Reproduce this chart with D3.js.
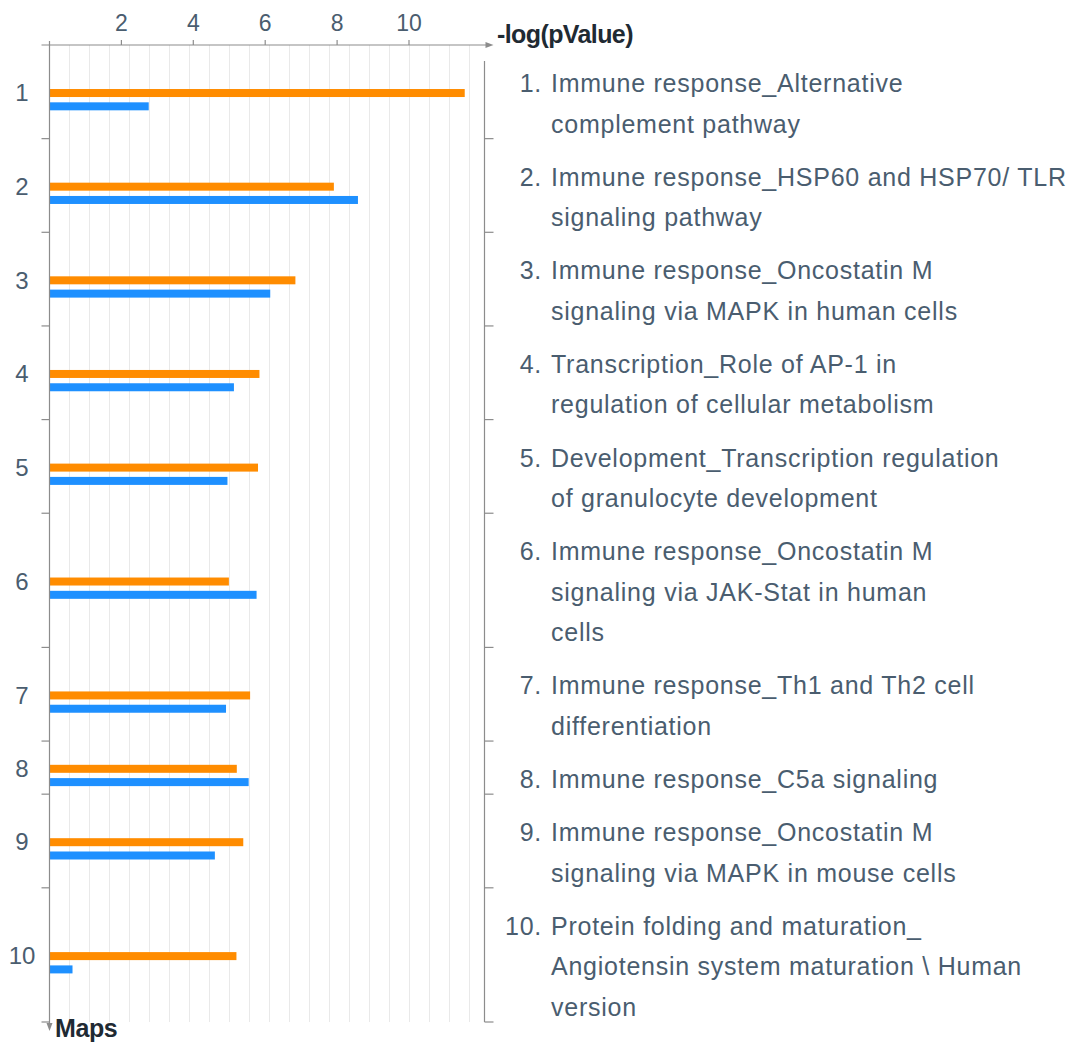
<!DOCTYPE html>
<html>
<head>
<meta charset="utf-8">
<script src="https://cdn.jsdelivr.net/npm/d3@7"></script>
<style>
  html, body { margin: 0; padding: 0; background: #ffffff; }
  svg { display: block; }
</style>
</head>
<body>
<svg id="chart" width="1079" height="1045"></svg>
<script>
// ---- data ----
const mapIds = ["1", "2", "3", "4", "5", "6", "7", "8", "9", "10"];
const mapLabels = [
  ["Immune response_Alternative", "complement pathway"],
  ["Immune response_HSP60 and HSP70/ TLR", "signaling pathway"],
  ["Immune response_Oncostatin M", "signaling via MAPK in human cells"],
  ["Transcription_Role of AP-1 in", "regulation of cellular metabolism"],
  ["Development_Transcription regulation", "of granulocyte development"],
  ["Immune response_Oncostatin M", "signaling via JAK-Stat in human", "cells"],
  ["Immune response_Th1 and Th2 cell", "differentiation"],
  ["Immune response_C5a signaling"],
  ["Immune response_Oncostatin M", "signaling via MAPK in mouse cells"],
  ["Protein folding and maturation_", "Angiotensin system maturation \\ Human", "version"]
];
const orangeValues = [11.55, 7.91, 6.84, 5.84, 5.80, 4.99, 5.58, 5.21, 5.39, 5.20];
const blueValues   = [2.76, 8.58, 6.14, 5.13, 4.95, 5.76, 4.91, 5.54, 4.60, 0.64];
const xTickValues  = [2, 4, 6, 8, 10];
const xAxisTitle = "-log(pValue)";
const yAxisTitle = "Maps";

(function () {
// ---- style / layout ----
const C = {
  orange: "#ff8c00",
  blue: "#1e90ff",
  text: "#4a5d6f",
  title: "#1f2a33",
  axis: "#8c8c8c",
  grid: "#e9e9e9"
};
const FONT = "'Liberation Sans', Arial, Helvetica, sans-serif";
const pL = 49.5, pR = 484.5, pT = 45, pB = 1022;
const xMax = 12.1;
const padUnits = 0.31;          // extra space per row, in text-line units
const gridStep = 0.5563;        // grid spacing in value units
const barH = 8;

const svg = d3.select("#chart");
svg.append("rect").attr("width", 1079).attr("height", 1045).attr("fill", "#fff");

const x = d3.scaleLinear().domain([0, xMax]).range([pL, pR]);

// rows: cumulative line units
const rows = [];
let acc = 0;
mapLabels.forEach((lines, i) => {
  const h = lines.length + padUnits;
  rows.push({ i, id: mapIds[i], lines, start: acc, end: acc + h, o: orangeValues[i], b: blueValues[i] });
  acc += h;
});
const y = d3.scaleLinear().domain([0, acc]).range([pT, pB]);
const lineH = y(1) - y(0);
const mid = d => (y(d.start) + y(d.end)) / 2;

// grid lines
const gridVals = d3.range(1, 22).map(k => k * gridStep);
svg.append("g").selectAll("line").data(gridVals).join("line")
  .attr("x1", d => x(d)).attr("x2", d => x(d))
  .attr("y1", pT).attr("y2", pB)
  .attr("stroke", C.grid).attr("stroke-width", 1);

// bars
const bars = svg.append("g");
bars.selectAll("rect.o").data(rows).join("rect").attr("class", "o")
  .attr("x", x(0)).attr("y", d => mid(d) - 2.8)
  .attr("width", d => x(d.o) - x(0)).attr("height", barH)
  .attr("fill", C.orange);
bars.selectAll("rect.b").data(rows).join("rect").attr("class", "b")
  .attr("x", x(0)).attr("y", d => mid(d) + 10.5)
  .attr("width", d => x(d.b) - x(0)).attr("height", barH)
  .attr("fill", C.blue);

// axes
const ax = svg.append("g").attr("stroke", C.axis).attr("stroke-width", 1.2).attr("fill", "none");
ax.append("line").attr("x1", pL - 8).attr("x2", pR + 2).attr("y1", pT).attr("y2", pT);
ax.append("path").attr("d", `M${pR + 1},${pT - 3}L${pR + 9},${pT}L${pR + 1},${pT + 3}Z`)
  .attr("fill", C.axis).attr("stroke", "none");
ax.selectAll("line.xt").data(xTickValues).join("line").attr("class", "xt")
  .attr("x1", d => x(d)).attr("x2", d => x(d)).attr("y1", pT - 5).attr("y2", pT);
ax.append("line").attr("x1", pL).attr("x2", pL).attr("y1", pT - 4).attr("y2", pB + 2);
ax.append("path").attr("d", `M${pL - 3},${pB + 1}L${pL},${pB + 9}L${pL + 3},${pB + 1}Z`)
  .attr("fill", C.axis).attr("stroke", "none");
ax.selectAll("line.yl").data(rows).join("line").attr("class", "yl")
  .attr("x1", pL - 8).attr("x2", pL).attr("y1", d => y(d.end)).attr("y2", d => y(d.end));
ax.append("line").attr("x1", pR).attr("x2", pR).attr("y1", pT + 16).attr("y2", pB);
ax.selectAll("line.yr").data(rows).join("line").attr("class", "yr")
  .attr("x1", pR).attr("x2", pR + 9).attr("y1", d => y(d.end)).attr("y2", d => y(d.end));

// tick labels (top)
svg.append("g").selectAll("text").data(xTickValues).join("text")
  .attr("x", d => x(d)).attr("y", 31)
  .attr("text-anchor", "middle")
  .attr("font-family", FONT).attr("font-size", 23).attr("fill", C.text)
  .text(d => d);

// left map numbers
svg.append("g").selectAll("text").data(rows).join("text")
  .attr("x", 22).attr("y", d => mid(d) + 9.5)
  .attr("text-anchor", "middle")
  .attr("font-family", FONT).attr("font-size", 24).attr("fill", C.text)
  .text(d => d.id);

// right labels
const lab = svg.append("g").attr("font-family", FONT).attr("font-size", 25).attr("fill", C.text);
lab.selectAll("text.num").data(rows).join("text").attr("class", "num")
  .attr("x", 542).attr("y", d => y(d.start) + 47)
  .attr("text-anchor", "end").attr("letter-spacing", 0.75)
  .text(d => d.id + ".");
rows.forEach(r => {
  lab.append("text")
    .attr("x", 551).attr("y", y(r.start) + 47)
    .attr("letter-spacing", 0.75)
    .selectAll("tspan").data(r.lines).join("tspan")
    .attr("x", 551).attr("dy", (d, k) => k === 0 ? 0 : lineH)
    .text(d => d);
});

// axis titles
svg.append("text").attr("x", 497).attr("y", 43)
  .attr("font-family", FONT).attr("font-size", 25).attr("font-weight", "bold")
  .attr("letter-spacing", -0.6).attr("fill", C.title).text(xAxisTitle);
svg.append("text").attr("x", 55).attr("y", 1037)
  .attr("font-family", FONT).attr("font-size", 25).attr("font-weight", "bold")
  .attr("letter-spacing", -0.4).attr("fill", C.title).text(yAxisTitle);
})();
</script>
</body>
</html>
